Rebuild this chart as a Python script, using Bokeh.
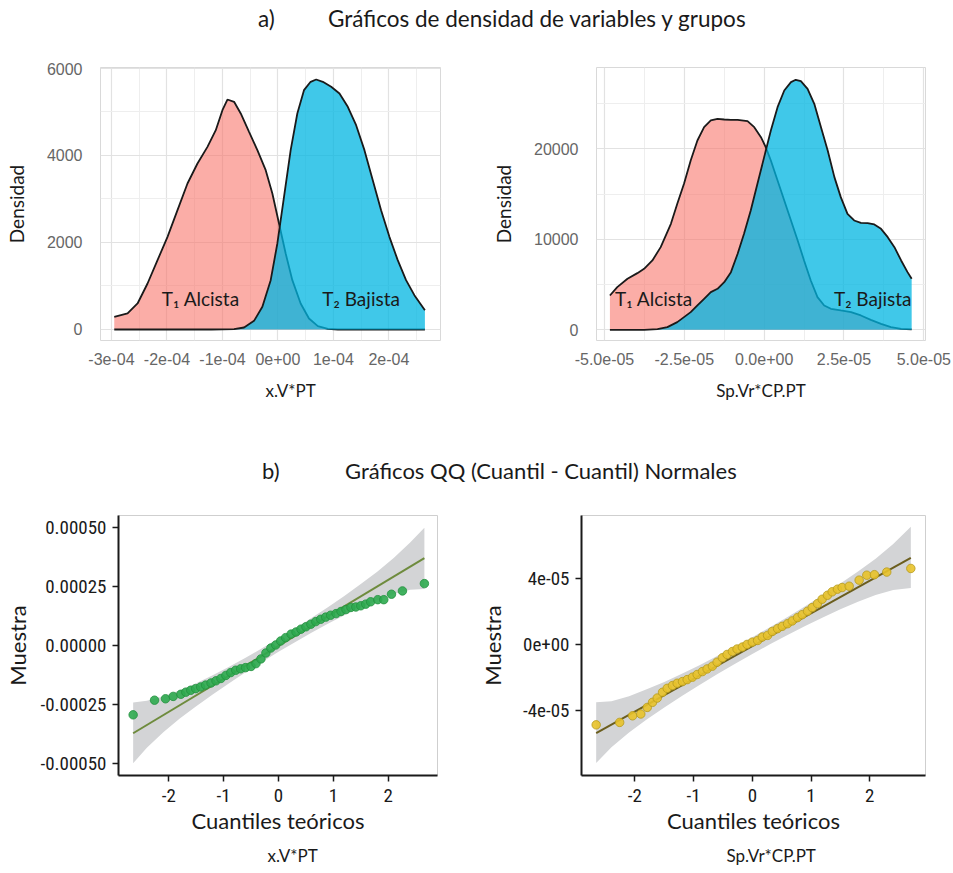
import numpy as np
from bokeh.plotting import figure
from bokeh.layouts import column, row
from bokeh.models import Div, FixedTicker, Range1d, Label, Title
from bokeh.embed import file_html
from bokeh.resources import INLINE

# ---------------- DATA ----------------
# a) density, x.V*PT  (x in units of 1e-4)
vpt_alc_x = [-2.95, -2.71, -2.53, -2.35, -2.17, -1.99, -1.81, -1.63, -1.45, -1.27, -1.12, -1.00, -0.91,
             -0.79, -0.67, -0.52, -0.37, -0.22, -0.10, 0.02, 0.14, 0.26, 0.41, 0.56, 0.72, 0.90, 1.08,
             1.60, 2.10, 2.65]
vpt_alc_y = [291, 368, 598, 1057, 1594, 2130, 2743, 3356, 3816, 4199, 4582, 5042, 5287,
             5234, 4966, 4544, 4123, 3663, 3126, 2437, 1747, 1134, 598, 253, 77, 15, 0,
             0, 0, 0]
vpt_baj_x = [-2.95, -2.00, -1.20, -0.79, -0.61, -0.43, -0.28, -0.13, -0.01, 0.11, 0.23, 0.35, 0.47,
             0.59, 0.69, 0.81, 0.96, 1.11, 1.26, 1.41, 1.56, 1.71, 1.86, 2.01, 2.16, 2.31, 2.46, 2.65]
vpt_baj_y = [0, 0, 0, 8, 46, 199, 521, 1134, 1977, 3050, 4123, 4966, 5502,
             5694, 5747, 5694, 5579, 5426, 5119, 4697, 4123, 3433, 2743, 2130, 1594, 1134, 789, 444]

# a) density, Sp.Vr*CP.PT  (x in units of 1e-5)
sp_alc_x = [-4.83, -4.60, -4.28, -3.97, -3.76, -3.50, -3.24, -2.92, -2.72, -2.51, -2.30, -2.09, -1.88,
            -1.67, -1.46, -1.25, -1.04, -0.83, -0.52, -0.31, -0.10, 0.05, 0.21, 0.42, 0.63, 0.84, 1.05,
            1.25, 1.46, 1.67, 1.88, 2.09, 2.40, 2.72, 3.03, 3.34, 3.66, 3.97, 4.29, 4.62]
sp_alc_y = [3793, 4714, 5635, 6261, 6740, 7661, 9134, 11712, 13922, 16131, 18710, 20919, 22393,
            23130, 23313, 23239, 23203, 23203, 23056, 22393, 21287, 20183, 18710, 16500, 14290, 12080, 9870,
            7661, 5451, 3609, 2689, 2320, 2136, 1952, 1584, 1105, 663, 295, 110, 37]
sp_baj_x = [-4.83, -4.28, -3.76, -3.34, -3.03, -2.72, -2.51, -2.30, -2.09, -1.88, -1.67, -1.46, -1.25,
            -1.04, -0.83, -0.63, -0.42, -0.21, 0.00, 0.21, 0.42, 0.63, 0.84, 0.99, 1.15, 1.36, 1.57,
            1.78, 1.99, 2.20, 2.40, 2.61, 2.82, 3.03, 3.24, 3.45, 3.66, 3.87, 4.08, 4.29, 4.49, 4.62]
sp_baj_y = [0, 0, 0, 74, 295, 847, 1400, 1952, 2689, 3425, 4162, 4530, 5267,
            6372, 8397, 10607, 13185, 16131, 19078, 22024, 24602, 26444, 27365, 27623, 27475, 26628, 24971,
            22393, 19815, 16868, 14659, 12817, 12080, 11822, 11786, 11638, 11159, 10239, 9134, 7661, 6372, 5635]

# b) QQ, x.V*PT  (sample in units of 1e-4)
qq1_theo = [-2.65, -2.26, -2.06, -1.92, -1.78, -1.69, -1.60, -1.51, -1.42, -1.33, -1.23, -1.14, -1.05,
            -0.96, -0.87, -0.78, -0.69, -0.60, -0.50, -0.41, -0.32, -0.23, -0.14, -0.05, 0.04, 0.13,
            0.23, 0.32, 0.41, 0.50, 0.59, 0.68, 0.77, 0.86, 0.95, 1.05, 1.14, 1.23, 1.32, 1.41, 1.50,
            1.59, 1.68, 1.81, 1.92, 2.06, 2.26, 2.66]
qq1_samp = [-2.95, -2.33, -2.27, -2.17, -2.08, -1.99, -1.91, -1.84, -1.77, -1.69, -1.60, -1.51, -1.41,
            -1.28, -1.16, -1.06, -1.00, -0.95, -0.90, -0.78, -0.58, -0.33, -0.12, 0.01, 0.18, 0.32,
            0.47, 0.56, 0.68, 0.78, 0.89, 1.00, 1.10, 1.19, 1.27, 1.34, 1.43, 1.51, 1.60, 1.62, 1.67,
            1.74, 1.84, 1.93, 1.93, 2.16, 2.30, 2.61]
qq1_line_x = [-2.65, 2.66]
qq1_line_y = [-3.73, 3.69]
qq1_band_x = [-2.65, -2.4, -2.1, -1.8, -1.5, -1.2, -0.9, -0.6, -0.3, 0.0, 0.3, 0.6, 0.9, 1.2, 1.5, 1.8, 2.1, 2.4, 2.66]
qq1_band_lo = [-5.00, -4.35, -3.69, -3.11, -2.59, -2.09, -1.61, -1.15, -0.71, -0.28, 0.13, 0.53, 0.91, 1.27,
               1.61, 1.91, 2.17, 2.35, 2.38]
qq1_band_hi = [-2.43, -2.35, -2.17, -1.91, -1.61, -1.27, -0.91, -0.53, -0.13, 0.28, 0.71, 1.15, 1.61, 2.09,
               2.59, 3.11, 3.69, 4.35, 4.98]

# b) QQ, Sp.Vr*CP.PT  (sample in units of 1e-5)
qq2_theo = [-2.66, -2.26, -2.04, -1.90, -1.79, -1.70, -1.62, -1.53, -1.45, -1.36, -1.28, -1.19, -1.11,
            -1.02, -0.94, -0.85, -0.77, -0.68, -0.60, -0.51, -0.43, -0.34, -0.26, -0.17, -0.09, 0.00,
            0.09, 0.17, 0.26, 0.34, 0.43, 0.51, 0.60, 0.68, 0.77, 0.85, 0.94, 1.02, 1.11, 1.19, 1.28,
            1.36, 1.45, 1.53, 1.65, 1.82, 1.95, 2.08, 2.29, 2.70]
qq2_samp = [-4.87, -4.72, -4.32, -4.21, -3.81, -3.50, -3.24, -2.89, -2.65, -2.48, -2.34, -2.24, -2.12,
            -1.97, -1.81, -1.63, -1.47, -1.30, -1.06, -0.79, -0.59, -0.41, -0.26, -0.14, 0.02, 0.16,
            0.26, 0.47, 0.57, 0.81, 0.98, 1.12, 1.28, 1.45, 1.65, 1.83, 2.04, 2.26, 2.50, 2.77, 3.01,
            3.22, 3.38, 3.48, 3.56, 3.93, 4.23, 4.26, 4.42, 4.64]
qq2_line_x = [-2.66, 2.70]
qq2_line_y = [-5.37, 5.29]
qq2_band_x = [-2.66, -2.4, -2.1, -1.8, -1.5, -1.2, -0.9, -0.6, -0.3, 0.0, 0.3, 0.6, 0.9, 1.2, 1.5, 1.8, 2.1, 2.4, 2.70]
qq2_band_lo = [-7.19, -6.23, -5.33, -4.55, -3.82, -3.12, -2.44, -1.79, -1.17, -0.56, 0.03, 0.59, 1.14, 1.66,
               2.16, 2.61, 3.03, 3.33, 3.45]
qq2_band_hi = [-3.49, -3.43, -3.13, -2.71, -2.26, -1.76, -1.24, -0.69, -0.13, 0.46, 1.07, 1.69, 2.34, 3.02,
               3.72, 4.45, 5.23, 6.13, 7.17]

# tick labels
vpt_xticks = [-3, -2, -1, 0, 1, 2]
vpt_xlabels = ["-3e-04", "-2e-04", "-1e-04", "0e+00", "1e-04", "2e-04"]
vpt_yticks = [0, 2000, 4000, 6000]
sp_xticks = [-5, -2.5, 0, 2.5, 5]
sp_xlabels = ["-5.0e-05", "-2.5e-05", "0.0e+00", "2.5e-05", "5.0e-05"]
sp_yticks = [0, 10000, 20000]
qq1_yticks = [-5, -2.5, 0, 2.5, 5]
qq1_ylabels = ["-0.00050", "-0.00025", "0.00000", "0.00025", "0.00050"]
qq2_yticks = [-4, 0, 4]
qq2_ylabels = ["-4e-05", "0e+00", "4e-05"]
qq_xticks = [-2, -1, 0, 1, 2]

DARK = "#1a1a1a"
MYRIAD = "Lato"
NARROW = "Roboto Condensed"


def density_fig(width, bl, br, xr, yr, xt, xminor, xlabels, yt, yminor,
                ax_, ay_, bx_, by_, lab_a, lab_b, xtitle, xalign, xoff):
    p = figure(width=width, height=405, x_range=Range1d(*xr), y_range=Range1d(*yr),
               output_backend="svg", toolbar_location=None,
               min_border_left=bl, min_border_right=br, min_border_top=22, min_border_bottom=110)
    p.outline_line_color = "#D9D9D9"
    p.xaxis.ticker = FixedTicker(ticks=xt, minor_ticks=xminor)
    p.yaxis.ticker = FixedTicker(ticks=yt, minor_ticks=yminor)
    p.xaxis.major_label_overrides = dict(zip(xt, xlabels))
    p.yaxis.major_label_overrides = {t: str(t) for t in yt}
    for ax in (p.xaxis[0], p.yaxis[0]):
        ax.axis_line_color = None
        ax.major_tick_line_color = None
        ax.minor_tick_line_color = None
        ax.major_label_text_font = "Liberation Sans"
        ax.major_label_text_font_size = "16px"
        ax.major_label_text_color = "#666666"
    p.xaxis.major_label_standoff = 6
    p.yaxis.major_label_standoff = 12
    p.yaxis.axis_label = "Densidad"
    p.yaxis.axis_label_text_font = MYRIAD
    p.yaxis.axis_label_text_font_size = "19px"
    p.yaxis.axis_label_text_font_style = "normal"
    p.yaxis.axis_label_text_color = DARK
    p.yaxis.axis_label_standoff = 16
    for g in (p.xgrid[0], p.ygrid[0]):
        g.grid_line_color = "#E2E2E2"
        g.grid_line_width = 1.2
        g.minor_grid_line_color = "#EEEEEE"
        g.minor_grid_line_width = 1

    p.varea(x=ax_, y1=0, y2=ay_, fill_color="#F8766D", fill_alpha=0.6)
    p.line(ax_, ay_, line_color=DARK, line_width=1.8)
    p.varea(x=bx_, y1=0, y2=by_, fill_color="#00B5E2", fill_alpha=0.75)
    p.line(bx_, by_, line_color=DARK, line_width=1.8)

    for (lx, ly, txt) in (lab_a + ("T\u2081 Alcista",), lab_b + ("T\u2082 Bajista",)):
        p.add_layout(Label(x=lx, y=ly, text=txt, text_align="center", text_baseline="middle",
                           text_font=MYRIAD, text_font_size="19px", text_color=DARK))
    t = Title(text=xtitle, align=xalign, offset=xoff, text_font=MYRIAD, text_font_size="17px",
              text_font_style="normal", text_color=DARK, standoff=20)
    p.add_layout(t, "below")
    return p


def qq_fig(width, bl, br, xr, yr, yt, ylabels, theo, samp, lx, ly, bx, blo, bhi,
           pt_fill, pt_line, line_col, xtitle, xoff, ylab_standoff):
    p = figure(width=width, height=383, x_range=Range1d(*xr), y_range=Range1d(*yr),
               output_backend="svg", toolbar_location=None,
               min_border_left=bl, min_border_right=br, min_border_top=25, min_border_bottom=98)
    p.xgrid.visible = False
    p.ygrid.visible = False
    p.outline_line_color = "#CFCFCF"
    p.xaxis.ticker = FixedTicker(ticks=qq_xticks)
    p.xaxis.major_label_overrides = {t: str(t) for t in qq_xticks}
    p.yaxis.ticker = FixedTicker(ticks=yt)
    p.yaxis.major_label_overrides = dict(zip(yt, ylabels))
    for ax in (p.xaxis[0], p.yaxis[0]):
        ax.axis_line_color = DARK
        ax.axis_line_width = 2
        ax.major_tick_line_color = DARK
        ax.major_tick_line_width = 1.5
        ax.major_tick_out = 6
        ax.major_tick_in = 0
        ax.minor_tick_line_color = None
        ax.major_label_text_font = NARROW
        ax.major_label_text_font_size = "19px"
        ax.major_label_text_color = DARK
        ax.axis_label_text_font = MYRIAD
        ax.axis_label_text_font_size = "22px"
        ax.axis_label_text_font_style = "normal"
        ax.axis_label_text_color = DARK
    p.xaxis.major_label_standoff = 7
    p.yaxis.major_label_standoff = 6
    p.xaxis.axis_label = "Cuantiles teóricos"
    p.yaxis.axis_label = "Muestra"
    p.xaxis.axis_label_standoff = 2
    p.yaxis.axis_label_standoff = ylab_standoff

    p.varea(x=bx, y1=blo, y2=bhi, fill_color="#D3D4D6", fill_alpha=1.0)
    p.line(lx, ly, line_color=line_col, line_width=2)
    p.scatter(theo, samp, size=8.5, fill_color=pt_fill, line_color=pt_line, line_width=0.8, fill_alpha=0.9)
    t = Title(text=xtitle, align="left", offset=xoff, text_font=MYRIAD, text_font_size="17px",
              text_font_style="normal", text_color=DARK, standoff=12)
    p.add_layout(t, "below")
    return p


p1 = density_fig(470, 100, 30, (-3.198, 2.931), (-253, 6023), vpt_xticks,
                 [-2.5, -1.5, -0.5, 0.5, 1.5, 2.5], vpt_xlabels, vpt_yticks, [1000, 3000, 5000],
                 vpt_alc_x, vpt_alc_y, vpt_baj_x, vpt_baj_y, (-1.39, 713), (1.50, 713), "x.V*PT", "left", 165)
p2 = density_fig(483, 126, 28, (-5.25, 5.053), (-1182, 28983), sp_xticks,
                 [-3.75, -1.25, 1.25, 3.75], sp_xlabels, sp_yticks, [5000, 15000, 25000],
                 sp_alc_x, sp_alc_y, sp_baj_x, sp_baj_y, (-3.45, 3425), (3.40, 3425), "Sp.Vr*CP.PT", "center", 0)

p3 = qq_fig(470, 118, 33, (-2.917, 2.899), (-5.521, 5.496), qq1_yticks, qq1_ylabels,
            qq1_theo, qq1_samp, qq1_line_x, qq1_line_y, qq1_band_x, qq1_band_lo, qq1_band_hi,
            "#2DAA4F", "#23903F", "#6E8B3D", "x.V*PT", 149, 7)
p4 = qq_fig(483, 111, 28, (-2.91, 2.95), (-7.95, 7.86), qq2_yticks, qq2_ylabels,
            qq2_theo, qq2_samp, qq2_line_x, qq2_line_y, qq2_band_x, qq2_band_lo, qq2_band_hi,
            "#E8C22A", "#B59A1E", "#6B5E1E", "Sp.Vr*CP.PT", 145, 14)

title_style = "position:absolute;top:%dpx;font-family:Lato;font-size:%spx;color:#1a1a1a;white-space:nowrap;"
div_a = Div(text=('<div style="position:relative;width:953px;height:45px;">'
                  '<span style="' + title_style % (3, "22.5") + 'left:258px;">a)</span>'
                  '<span style="' + title_style % (3, "22.5") + 'left:328px;">Gráficos de densidad de variables y grupos</span>'
                  '</div>'), width=953, height=45, margin=(0, 0, 0, 0))
div_b = Div(text=('<div style="position:relative;width:953px;height:40px;">'
                  '<span style="' + title_style % (5, "22") + 'left:262px;">b)</span>'
                  '<span style="' + title_style % (5, "22") + 'left:345px;">Gráficos QQ (Cuantil - Cuantil) Normales</span>'
                  '</div>'), width=953, height=40, margin=(0, 0, 0, 0))

layout = column(div_a, row(p1, p2), div_b, row(p3, p4))
open("out.html", "w").write(file_html(layout, INLINE))
